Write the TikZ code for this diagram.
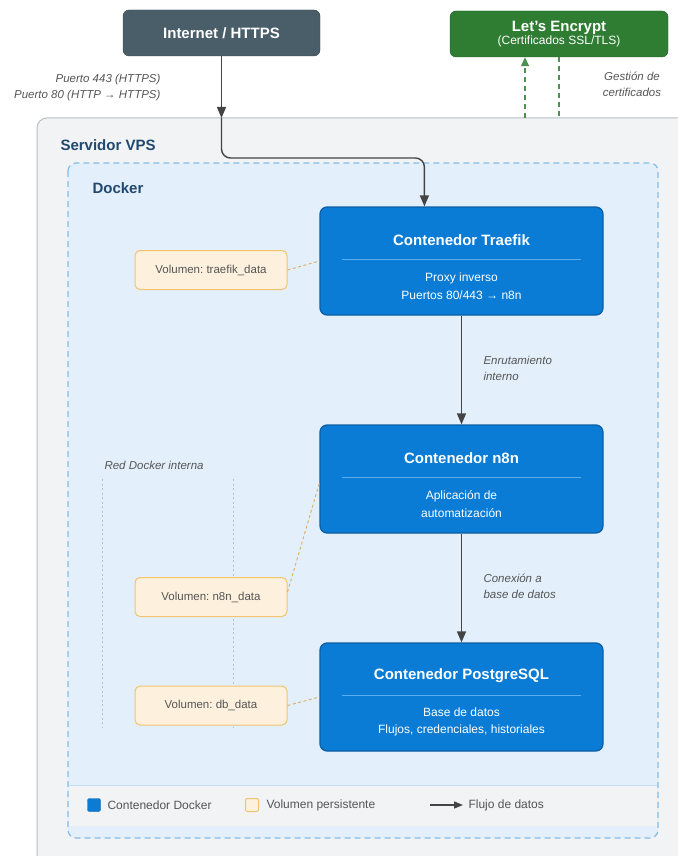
\documentclass[tikz,border=0pt]{standalone}
\usepackage{fontspec}
\setmainfont{Liberation Sans}
\usetikzlibrary{positioning,arrows.meta}
\frenchspacing
\definecolor{azulC}{HTML}{0A7CD6}
\definecolor{azulB}{HTML}{0B5EA3}
\definecolor{azulL}{HTML}{5DAEEC}
\definecolor{pizarra}{HTML}{4A5E69}
\definecolor{verde}{HTML}{2E7D32}
\definecolor{grisF}{HTML}{F1F3F4}
\definecolor{grisB}{HTML}{B5C0C6}
\definecolor{celeste}{HTML}{E3F0FB}
\definecolor{celesteB}{HTML}{85BCE9}
\definecolor{puntos}{HTML}{A9C6DE}
\definecolor{naranja}{HTML}{F3C36E}
\definecolor{crema}{HTML}{FDF1DE}
\definecolor{textoG}{HTML}{555555}
\definecolor{flecha}{HTML}{444444}
\definecolor{tituloA}{HTML}{21486E}

\tikzset{
  contenedor/.style={draw=azulB,fill=azulC,line width=1.2pt,rounded corners=7pt,
    minimum width=283pt,minimum height=108pt},
  titulo/.style={text=white,font=\fontsize{15}{18}\selectfont\bfseries},
  cuerpo/.style={text=white,align=center,font=\fontsize{12}{17.5}\selectfont},
  separador/.style={draw=azulL,line width=0.8pt},
  volumen/.style={draw=naranja,fill=crema,line width=1pt,rounded corners=5pt,
    minimum width=152pt,minimum height=39pt,text=textoG,font=\fontsize{11.5}{14}\selectfont},
  nota/.style={text=textoG,font=\fontsize{11.5}{16}\selectfont\itshape},
  flujo/.style={->,draw=flecha,line width=1.4pt},
  enlace/.style={draw=naranja!90!black,line width=0.9pt,dash pattern=on 3pt off 2.5pt},
  cert/.style={draw=verde!85!white,line width=1.4pt,dash pattern=on 5pt off 4pt},
  red/.style={draw=puntos,line width=0.8pt,dash pattern=on 2pt off 2.5pt},
  leyenda/.style={anchor=west,text=textoG,font=\fontsize{12}{14}\selectfont}
}

\begin{document}
\begin{tikzpicture}[x=1pt,y=-1pt,>={Triangle[length=11pt,width=9pt]}]
\useasboundingbox (0,0) rectangle (677,856);

% servidor y docker
\draw[fill=grisF,draw=grisB,line width=1pt,rounded corners=10pt] (37,118) rectangle (700,890);
\fill[celeste,rounded corners=8pt] (68,163) rectangle (658,838);
\fill[grisF] (69,785) rectangle (657,826);
\draw[draw=celesteB!50!white,line width=0.8pt] (69,785) -- (657,785);
\draw[draw=celesteB,line width=1.2pt,dash pattern=on 6pt off 4pt,rounded corners=8pt] (68,163) rectangle (658,838);
\node[anchor=west,text=tituloA,font=\fontsize{15}{18}\selectfont\bfseries] (servidor) at (57,145) {Servidor VPS};
\node[anchor=west,text=tituloA,font=\fontsize{15}{18}\selectfont\bfseries] (docker) at (89,188) {Docker};

% externos
\node[draw=pizarra!70!black,fill=pizarra,rounded corners=6pt,minimum width=197pt,minimum height=46pt,
  titulo] (internet) at (221.5,33) {Internet / HTTPS};
\node[draw=verde!70!black,fill=verde,rounded corners=6pt,minimum width=218pt,minimum height=46pt,
  text=white,align=center,inner sep=2pt] (lets) at (559,34)
  {{\fontsize{15}{17}\selectfont\bfseries Let's Encrypt}\\[1pt]{\fontsize{12}{14}\selectfont (Certificados SSL/TLS)}};
\node[nota,anchor=east,align=right] (puertos) at (164,88) {Puerto 443 (HTTPS)\\Puerto 80 (HTTP → HTTPS)};
\node[nota,align=center] (gestion) at (632,84) {Gestión de\\certificados};

% contenedores
\node[contenedor] (traefik) at (461.5,261) {};
\node[titulo] (traefikT) at (461.5,240) {Contenedor Traefik};
\draw[separador] (342,259) -- (581,259);
\node[cuerpo] (traefikC) at (461.5,286) {Proxy inverso\\Puertos 80/443 → n8n};

\node[contenedor] (n8n) at (461.5,479) {};
\node[titulo] (n8nT) at (461.5,458) {Contenedor n8n};
\draw[separador] (342,477) -- (581,477);
\node[cuerpo] (n8nC) at (461.5,504) {Aplicación de\\automatización};

\node[contenedor] (postgres) at (461.5,697) {};
\node[titulo] (postgresT) at (461.5,676) {Contenedor PostgreSQL};
\draw[separador] (342,695) -- (581,695);
\node[cuerpo] (postgresC) at (461.5,722) {Base de datos\\Flujos, credenciales, historiales};

% red interna
\node[nota,anchor=west] (redT) at (101,465) {Red Docker interna};
\coordinate (redA) at (102,479);
\coordinate (redB) at (233,479);
\draw[red] (redA) -- (102,728);
\draw[red] (redB) -- (233,728);

% volumenes
\node[volumen] (vtraefik) at (211,270) {Volumen: traefik\_data};
\node[volumen] (vn8n) at (211,597) {Volumen: n8n\_data};
\node[volumen] (vdb) at (211,705.5) {Volumen: db\_data};
\draw[enlace] (vtraefik.east) -- (traefik.west);
\draw[enlace] ([yshift=5pt]vn8n.east) -- ([yshift=-4pt]n8n.west);
\draw[enlace] (vdb.east) -- (postgres.west);

% flujos
\coordinate (entrada) at (221.5,118);
\draw[flujo] (internet) -- (entrada);
\draw[flujo,rounded corners=9pt] (entrada) -- ++(0,40) -| ([xshift=105pt]traefik.north west);
\draw[flujo] (traefik) -- (n8n);
\draw[flujo] (n8n) -- (postgres);
\node[nota,anchor=west,align=left] (rutaT) at (480,368) {Enrutamiento\\interno};
\node[nota,anchor=west,align=left] (conexT) at (480,586) {Conexión a\\base de datos};

% certificados
\coordinate (certA) at (525,118);
\coordinate (certB) at (559,118);
\draw[cert,->,>={Triangle[length=9pt,width=8pt]}] (certA) -- (certA |- lets.south);
\draw[cert] (lets) -- (certB);

% leyenda
\node[fill=azulC,draw=azulB,rounded corners=2pt,minimum size=13pt,inner sep=0pt] (legC) at (94,805) {};
\node[leyenda] (legCT) at (104,805) {Contenedor Docker};
\node[fill=crema,draw=naranja,line width=1pt,rounded corners=2pt,minimum size=13pt,inner sep=0pt] (legV) at (252,805) {};
\node[leyenda] (legVT) at (263,805) {Volumen persistente};
\coordinate (legA) at (430,805);
\coordinate (legB) at (463,805);
\draw[flujo,>={Triangle[length=9pt,width=7pt]}] (legA) -- (legB);
\node[leyenda] (legAT) at (465,805) {Flujo de datos};
\end{tikzpicture}
\end{document}
